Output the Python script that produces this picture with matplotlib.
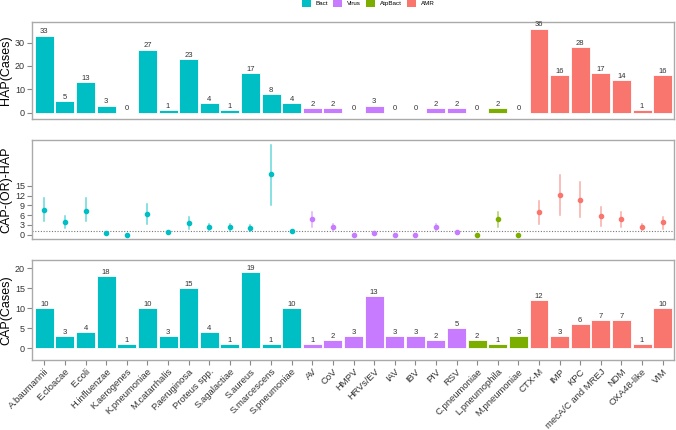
import numpy as np
import matplotlib.pyplot as plt
from matplotlib.patches import Patch

plt.rcParams['font.family'] = ['Liberation Sans', 'DejaVu Sans']

categories = ["A.baumannii", "E.cloacae", "E.coli", "H.influenzae", "K.aerogenes",
              "K.pneumoniae", "M.catarrhalis", "P.aeruginosa", "Proteus spp.",
              "S.agalactiae", "S.aureus", "S.marcescens", "S.pneumoniae",
              "AV", "CoV", "HMPV", "HRVs/EV", "IAV", "IBV", "PIV", "RSV",
              "C.pneumoniae", "L.pneumophila", "M.pneumoniae",
              "CTX-M", "IMP", "KPC", "mecA/C and MREJ", "NDM", "OXA48-like", "VIM"]
groups = ["Bact"] * 13 + ["Virus"] * 8 + ["AtpBact"] * 3 + ["AMR"] * 7

hap_cases = [33, 5, 13, 3, 0, 27, 1, 23, 4, 1, 17, 8, 4,
             2, 2, 0, 3, 0, 0, 2, 2,
             0, 2, 0,
             36, 16, 28, 17, 14, 1, 16]
cap_cases = [10, 3, 4, 18, 1, 10, 3, 15, 4, 1, 19, 1, 10,
             1, 2, 3, 13, 3, 3, 2, 5,
             2, 1, 3,
             12, 3, 6, 7, 7, 1, 10]

odds_ratio = [7.6, 4.0, 7.4, 0.4, 0.0, 6.3, 0.8, 3.6, 2.4, 2.4, 2.0, 18.6, 1.0,
              4.8, 2.4, 0.0, 0.5, 0.0, 0.0, 2.4, 0.9,
              0.0, 4.7, 0.0,
              6.9, 12.2, 10.7, 5.6, 4.7, 2.4, 3.8]
or_low = [4.1, 2.0, 4.1, 0.4, 0.0, 3.2, 0.8, 1.9, 1.4, 1.3, 1.0, 9.2, 1.0,
          2.4, 1.5, 0.0, 0.5, 0.0, 0.0, 1.5, 0.9,
          0.0, 2.4, 0.0,
          3.4, 6.1, 5.3, 2.8, 2.4, 1.4, 1.9]
or_high = [11.2, 5.8, 11.2, 0.4, 0.0, 9.5, 0.8, 5.3, 3.3, 3.3, 3.0, 27.5, 1.0,
           6.9, 3.3, 0.0, 0.5, 0.0, 0.0, 3.3, 0.9,
           0.0, 6.9, 0.0,
           10.4, 18.3, 16.1, 8.4, 6.9, 3.3, 5.4]

palette = {"Bact": "#00BFC4", "Virus": "#C77CFF", "AtpBact": "#7CAE00", "AMR": "#F8766D"}
colors = [palette[g] for g in groups]
x = np.arange(len(categories))

fig = plt.figure(figsize=(6.76, 4.30), dpi=100)
W, H = 676, 430


def make_ax(top, bottom):
    ax = fig.add_axes([32 / W, 1 - bottom / H, 642 / W, (bottom - top) / H])
    for s in ax.spines.values():
        s.set_color("#aaaaaa")
        s.set_linewidth(1)
    ax.tick_params(axis="y", colors="#888888", labelcolor="#333333", labelsize=6.5, length=3.5, pad=1.5)
    ax.set_xlim(-0.6, len(categories) - 0.45)
    return ax


def bar_panel(ax, vals, label):
    ax.bar(x, vals, width=0.92, color=colors, edgecolor="white", linewidth=0.6)
    for xi, v in zip(x, vals):
        ax.text(xi, v + 0.1, str(v), ha="center", va="bottom", fontsize=5.5, color="#333333")
    ax.set_ylabel(label, fontsize=9)


ax1 = make_ax(22, 119)
bar_panel(ax1, hap_cases, "HAP(Cases)")
ax1.set_ylim(-2.7, 38.8)
ax1.set_yticks([0, 10, 20, 30])
ax1.set_xticks([])

ax2 = make_ax(140, 239)
ax2.axhline(1, color="#777777", linestyle=(0, (1, 1.5)), linewidth=0.8)
for xi, v, lo, hi, c in zip(x, odds_ratio, or_low, or_high, colors):
    if hi > lo:
        ax2.plot([xi, xi], [lo, hi], color=c, alpha=0.6, linewidth=1.1)
    ax2.plot(xi, v, "o", color=c, markersize=3)
ax2.set_ylim(-1.3, 29)
ax2.set_yticks([0, 3, 6, 9, 12, 15])
ax2.set_xticks([])
ax2.set_ylabel("CAP-(OR)-HAP", fontsize=9)

ax3 = make_ax(260, 360)
bar_panel(ax3, cap_cases, "CAP(Cases)")
ax3.set_ylim(-2.9, 22.1)
ax3.set_yticks([0, 5, 10, 15, 20])
ax3.set_xticks(x)
ax3.set_xticklabels(categories, rotation=45, ha="right", rotation_mode="anchor", fontsize=6.8, color="#333333")
ax3.tick_params(axis="x", colors="#888888", labelcolor="#333333", length=3.5, pad=1.5)

for ax in (ax1, ax2, ax3):
    ax.yaxis.set_label_coords(-0.031, 0.5)

handles = [Patch(facecolor=palette[g], edgecolor="none") for g in palette]
fig.legend(handles, list(palette.keys()), loc="upper center", bbox_to_anchor=(0.545, 1.012), ncol=4,
           frameon=False, fontsize=4.5, handlelength=1.45, handleheight=1.45, columnspacing=0.8,
           handletextpad=0.8, borderpad=0.2)

fig.savefig("out.png", dpi=100)
